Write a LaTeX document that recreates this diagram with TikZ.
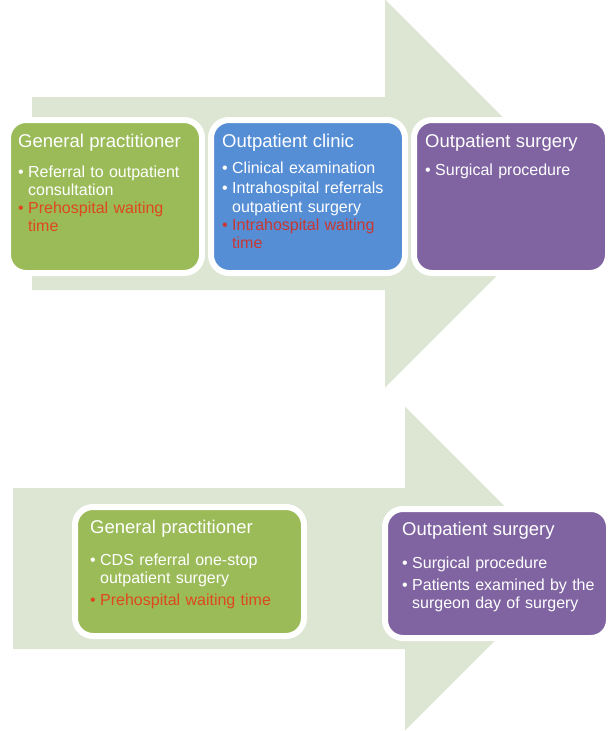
\documentclass[tikz,border=0pt]{standalone}
\usepackage{fontspec}
\setmainfont{Liberation Sans}
\usetikzlibrary{shadows}
\definecolor{arrowgreen}{RGB}{220,230,210}
\definecolor{gpgreen}{RGB}{155,187,89}
\definecolor{clinicblue}{RGB}{85,142,213}
\definecolor{surgpurple}{RGB}{128,100,162}
\definecolor{waitred}{RGB}{222,72,30}
\definecolor{waitdark}{RGB}{200,55,50}
\newcommand{\ttl}[1]{{\fontsize{18.5}{22}\selectfont #1}}
\newcommand{\bul}{\makebox[10pt][l]{\textbullet}}
\newcommand{\ind}{\hspace*{10pt}}
\tikzset{
	stage/.style={draw=white, line width=6pt, rounded corners=18pt, anchor=north west,
		drop shadow={shadow xshift=0pt, shadow yshift=-2pt, opacity=0.3}},
	stagetext/.style={anchor=north west, inner sep=0pt, text=white, align=left,
		text width=#1, font=\fontsize{16}{18}\selectfont}
}

\begin{document}
\begin{tikzpicture}[x=1pt, y=-1pt]
		%%%%% START %%%%%
		\useasboundingbox (0, 0) rectangle (614, 731);
		
		% upper pathway
		\draw[fill=arrowgreen, draw=none] (32, 97) -- (385, 97) -- (385, -0.5) -- (579, 193.5) -- (385, 387.5) -- (385, 290) -- (32, 290) -- cycle;
		
		\node[stage, fill=gpgreen, minimum width=194pt, minimum height=153pt] (gp) at (5, 117) {};
		\node[stagetext=180pt] (gptext) at ([shift={(13, 16.6)}]gp.north west) {\ttl{General practitioner}\\[12pt]
			\bul Referral to outpatient\\
			\ind consultation\\
			\textcolor{waitred}{\bul Prehospital waiting}\\
			\textcolor{waitred}{\ind time}};
		
		\node[stage, fill=clinicblue, minimum width=194pt, minimum height=153pt] (clinic) at (208, 117) {};
		\node[stagetext=180pt] (clinictext) at ([shift={(14, 16.6)}]clinic.north west) {\ttl{Outpatient clinic}\\[8pt]
			\bul Clinical examination\\[2pt]
			\bul Intrahospital referrals\\[1pt]
			\ind outpatient surgery\\
			\textcolor{waitdark}{\bul Intrahospital waiting}\\
			\textcolor{waitdark}{\ind time}};
		
		\node[stage, fill=surgpurple, minimum width=194pt, minimum height=153pt] (surg) at (411, 117) {};
		\node[stagetext=180pt] (surgtext) at ([shift={(14, 16.6)}]surg.north west) {\ttl{Outpatient surgery}\\[10pt]
			\bul Surgical procedure};
		
		% lower pathway
		\draw[fill=arrowgreen, draw=none] (13, 488) -- (405, 488) -- (405, 406.5) -- (567, 568.5) -- (405, 730.5) -- (405, 649) -- (13, 649) -- cycle;
		
		\node[stage, fill=gpgreen, minimum width=229pt, minimum height=129pt] (cdsgp) at (72, 504) {};
		\node[stagetext=205pt] (cdsgptext) at ([shift={(18, 15.6)}]cdsgp.north west) {\ttl{General practitioner}\\[14pt]
			\bul CDS referral one-stop\\
			\ind outpatient surgery\\[4pt]
			\textcolor{waitred}{\bul Prehospital waiting time}};
		
		\node[stage, fill=surgpurple, minimum width=224pt, minimum height=129pt] (cdssurg) at (382, 506) {};
		\node[stagetext=200pt] (cdssurgtext) at ([shift={(20, 15.6)}]cdssurg.north west) {\ttl{Outpatient surgery}\\[15pt]
			\bul Surgical procedure\\[4pt]
			\bul Patients examined by the\\
			\ind surgeon day of surgery};
		
		%%%%% END %%%%%
\end{tikzpicture}
\end{document}
